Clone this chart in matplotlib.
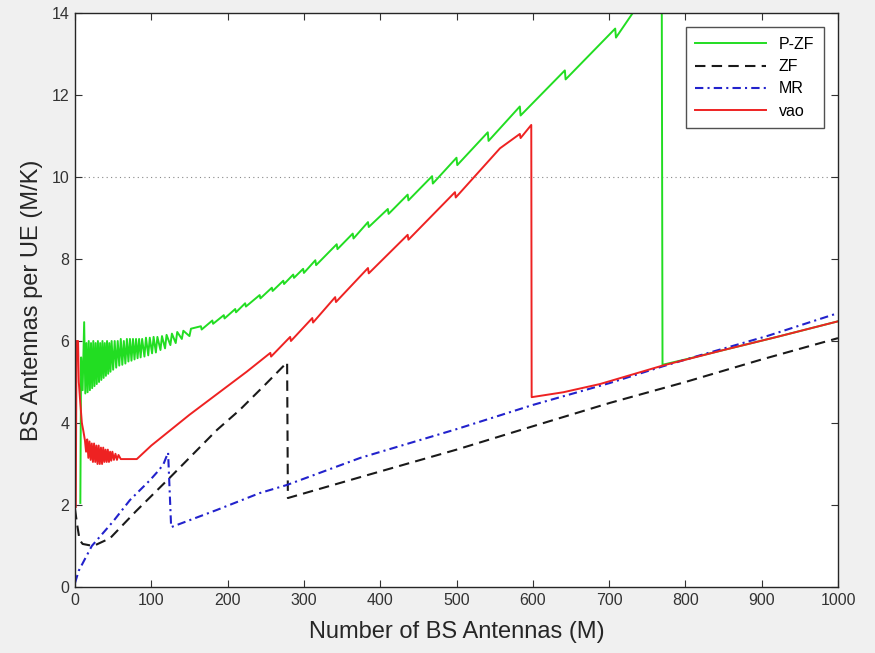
import matplotlib.pyplot as plt

plt.rcParams['font.family'] = ['Liberation Sans', 'DejaVu Sans']

# P-ZF (green): noisy start, sawtooth rise, clipped above 14, drop at ~770
pzf_x = [7, 8, 10, 12, 13.5, 15, 16.5, 18, 19.5, 21, 22.5, 24, 25.5, 27, 28.5, 30, 31.5, 33, 34.5, 36,
         37.5, 39, 40.5, 42, 43.5, 45, 46.5, 48, 50, 52, 54, 56, 58, 60, 62, 64, 66, 68, 70, 72,
         74, 76, 78, 80, 82, 84, 86, 88, 91, 93, 96, 98, 101, 103, 106, 108, 112, 114, 118, 120,
         125, 127, 132, 134, 140, 142, 150, 152,
         165, 166, 180, 181, 195, 196, 210, 211, 223, 224, 242, 243, 258, 259,
         273, 274, 286, 287, 299, 300, 315, 316, 343, 344, 364, 365, 384, 385,
         410, 411, 436, 437, 468, 469, 500, 501, 541, 542, 583, 584, 642, 643,
         708, 709, 731, 750, 769, 770, 800, 850, 920, 1000]
pzf_y = [2.05, 5.6, 4.8, 6.46, 4.72, 5.95, 4.75, 6.0, 4.8, 5.95, 4.85, 6.0, 4.9, 5.95, 4.95, 6.0, 5.0, 5.95, 5.05, 6.0,
         5.1, 5.95, 5.15, 6.0, 5.2, 5.95, 5.25, 6.0, 5.3, 6.0, 5.35, 6.0, 5.4, 6.05, 5.42, 6.0, 5.45, 6.05, 5.5, 6.05,
         5.52, 6.05, 5.55, 6.05, 5.58, 6.05, 5.6, 6.05, 5.62, 6.08, 5.65, 6.08, 5.7, 6.1, 5.72, 6.1, 5.78, 6.12, 5.82, 6.15,
         5.9, 6.18, 5.95, 6.22, 6.05, 6.25, 6.12, 6.3,
         6.36, 6.28, 6.5, 6.42, 6.63, 6.55, 6.78, 6.7, 6.92, 6.84, 7.12, 7.04, 7.3, 7.22,
         7.47, 7.39, 7.62, 7.54, 7.76, 7.66, 7.97, 7.85, 8.36, 8.24, 8.62, 8.5, 8.9, 8.78,
         9.22, 9.1, 9.57, 9.43, 10.02, 9.84, 10.47, 10.29, 11.09, 10.88, 11.72, 11.5, 12.6, 12.38,
         13.62, 13.4, 14.0, 14.3, 14.6, 5.42, 5.55, 5.78, 6.1, 6.48]

# ZF (black dashed)
zf_x = [0, 3, 6, 10, 24, 46, 80, 125, 186, 216, 250, 278, 279, 374, 500, 600, 701, 800, 900, 1000]
zf_y = [1.9, 1.5, 1.15, 1.05, 1.0, 1.19, 1.85, 2.68, 3.83, 4.32, 4.95, 5.48, 2.17, 2.68, 3.35, 3.92, 4.49, 5.0, 5.55, 6.07]

# MR (blue dash-dot)
mr_x = [0, 5, 22, 50, 72, 98, 110, 116, 122, 126, 186, 242, 278, 374, 500, 600, 700, 770, 819, 907, 1000]
mr_y = [0.1, 0.4, 1.0, 1.6, 2.12, 2.6, 2.85, 3.0, 3.28, 1.46, 1.88, 2.29, 2.49, 3.15, 3.85, 4.44, 4.97, 5.38, 5.65, 6.12, 6.68]

# vao (red)
vao_x = [1, 2, 4, 5, 6.5, 9, 11, 13, 14.5, 16, 17.5, 19, 20.5, 22, 23.5, 25, 26.5, 28, 29.5, 31, 32.5, 34,
         35.5, 37, 38.5, 40, 41.5, 43, 44.5, 46, 47.5, 49, 51, 53, 55, 57, 60, 70, 81,
         100, 130, 150, 175, 200, 225, 256, 257, 282, 283, 311, 312,
         341, 342, 384, 385, 436, 437, 498, 499, 557, 583, 584, 598, 598.5,
         640, 688, 730, 770, 850, 920, 1000]
vao_y = [1.95, 6.0, 6.0, 5.0, 4.6, 4.0, 3.8, 3.58, 3.3, 3.6, 3.15, 3.55, 3.1, 3.5, 3.05, 3.5, 3.05, 3.45, 3.0, 3.45, 3.0, 3.4,
         3.0, 3.4, 3.05, 3.35, 3.05, 3.35, 3.05, 3.3, 3.08, 3.3, 3.1, 3.25, 3.1, 3.22, 3.12, 3.12, 3.12,
         3.45, 3.9, 4.2, 4.55, 4.9, 5.25, 5.71, 5.62, 6.1, 6.0, 6.56, 6.45,
         7.07, 6.95, 7.78, 7.65, 8.59, 8.47, 9.63, 9.5, 10.7, 11.05, 10.95, 11.27, 4.63,
         4.75, 4.95, 5.18, 5.4, 5.78, 6.1, 6.48]

x_ticks = list(range(0, 1001, 100))
y_ticks = list(range(0, 15, 2))

fig = plt.figure(figsize=(8.75, 6.53), dpi=100, facecolor='#f0f0f0')
ax = fig.add_axes([75 / 875, 66 / 653, 763 / 875, 574 / 653])
ax.set_facecolor('white')

ax.axhline(10, color='#888888', linestyle=(0, (1, 3)), linewidth=0.8, zorder=1)

ax.plot(pzf_x, pzf_y, color='#22dd22', linewidth=1.4, label='P-ZF')
ax.plot(zf_x, zf_y, color='#1a1a1a', linewidth=1.5, linestyle=(0, (5, 3)), label='ZF')
ax.plot(mr_x, mr_y, color='#2222cc', linewidth=1.5, linestyle=(0, (4, 2, 1, 2)), label='MR')
ax.plot(vao_x, vao_y, color='#ee2222', linewidth=1.4, label='vao')

ax.set_xlim(0, 1000)
ax.set_ylim(0, 14)
ax.set_xticks(x_ticks)
ax.set_yticks(y_ticks)
ax.tick_params(direction='in', top=True, right=True, length=5, labelsize=11.5,
               colors='#333333', pad=4)
for s in ax.spines.values():
    s.set_color('#262626')
    s.set_linewidth(1.0)

ax.set_xlabel('Number of BS Antennas (M)', fontsize=17, color='#262626', labelpad=10)
ax.set_ylabel('BS Antennas per UE (M/K)', fontsize=17, color='#262626', labelpad=6)

leg = ax.legend(loc='upper right', fontsize=11.5, handlelength=4.4, frameon=True,
                fancybox=False, edgecolor='#262626', borderaxespad=0.9,
                labelspacing=0.45, borderpad=0.6)
leg.get_frame().set_linewidth(1.0)

fig.savefig('out.png', dpi=100, facecolor=fig.get_facecolor())
